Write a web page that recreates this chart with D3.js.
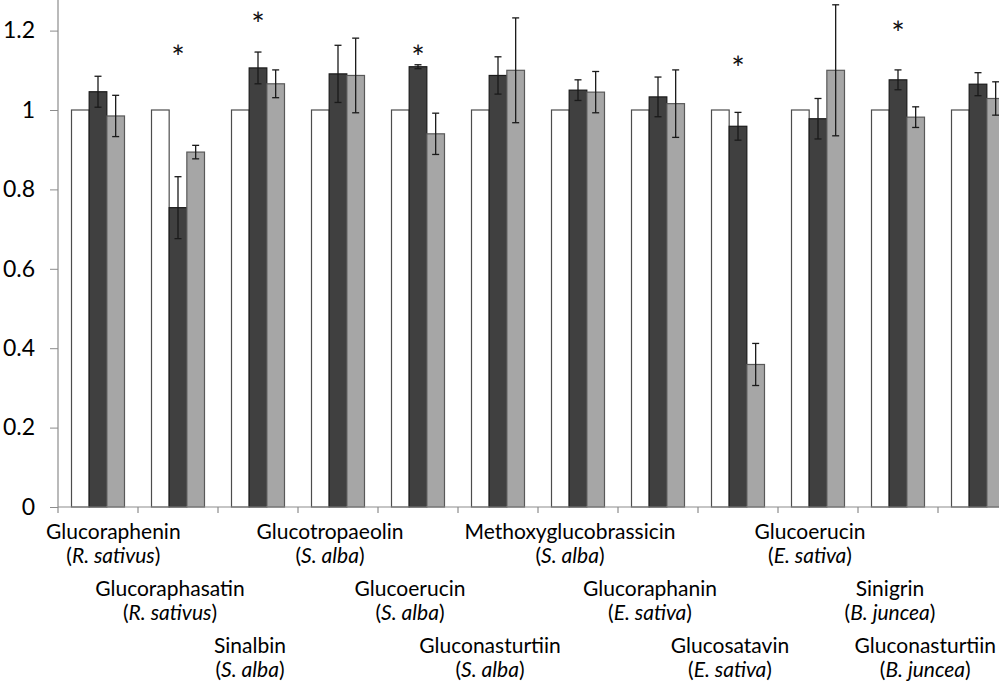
<!DOCTYPE html>
<html>
<head>
<meta charset="utf-8">
<script src="https://cdn.jsdelivr.net/npm/d3@7"></script>
<style>
  html, body { margin: 0; padding: 0; background: #fff; }
  svg { display: block; }
  text { font-family: Lato, "Open Sans", sans-serif; }
</style>
</head>
<body>
<script>
// ---- data ----
const compounds = ["Glucoraphenin","Glucoraphasatin","Sinalbin","Glucotropaeolin","Glucoerucin","Gluconasturtiin","Methoxyglucobrassicin","Glucoraphanin","Glucosatavin","Glucoerucin","Sinigrin","Gluconasturtiin"];
const species = ["R. sativus","R. sativus","S. alba","S. alba","S. alba","S. alba","S. alba","E. sativa","E. sativa","E. sativa","B. juncea","B. juncea"];
const seriesNames = ["control","treatmentA","treatmentB"];
const controlValues = [1,1,1,1,1,1,1,1,1,1,1,1];
const treatmentA = [1.046,0.754,1.106,1.091,1.109,1.087,1.050,1.033,0.959,0.978,1.076,1.065];
const errorA =     [0.039,0.078,0.040,0.072,0.005,0.047,0.026,0.050,0.035,0.051,0.025,0.029];
const treatmentB = [0.985,0.894,1.066,1.087,0.940,1.100,1.045,1.016,0.359,1.100,0.982,1.029];
const errorB =     [0.052,0.017,0.035,0.094,0.052,0.132,0.052,0.085,0.053,0.165,0.026,0.042];
const significantIdx = [1,2,4,8,10];
const significantLevel = [1.146,1.229,1.146,1.119,1.206];
const yTicks = [0,0.2,0.4,0.6,0.8,1.0,1.2];
const yTickLabels = ["0","0.2","0.4","0.6","0.8","1","1.2"];

// ---- layout ----
const W = 999, H = 695;
const axisX = 58, baseY = 507;
const svg = d3.select("body").append("svg").attr("width", W).attr("height", H);
svg.append("rect").attr("width", W).attr("height", H).attr("fill", "#fff");

const x = d3.scaleBand().domain(d3.range(compounds.length)).range([axisX, axisX + 80 * compounds.length]).padding(0);
const xs = d3.scaleBand().domain(seriesNames).range([13.5, 66.5]).padding(0);
const y = d3.scaleLinear().domain([0, 1.2]).range([baseY, 30.6]);

const styles = {
  control:    {fill: "#ffffff", stroke: "#4d4d4d"},
  treatmentA: {fill: "#404040", stroke: "#1a1a1a"},
  treatmentB: {fill: "#a6a6a6", stroke: "#595959"}
};
const seriesVals = {control: controlValues, treatmentA: treatmentA, treatmentB: treatmentB};
const seriesErr = {treatmentA: errorA, treatmentB: errorB};

// bars
const g = svg.append("g");
seriesNames.forEach(s => {
  g.selectAll(null).data(seriesVals[s]).enter().append("rect")
    .attr("x", (d, i) => x(i) + xs(s))
    .attr("y", d => y(d))
    .attr("width", xs.bandwidth())
    .attr("height", d => y(0) - y(d))
    .attr("fill", styles[s].fill)
    .attr("stroke", styles[s].stroke)
    .attr("stroke-width", 1.2);
});

// error bars
["treatmentA","treatmentB"].forEach(s => {
  const vals = seriesVals[s], errs = seriesErr[s];
  const eg = g.selectAll(null).data(vals).enter().append("g")
    .attr("stroke", "#1a1a1a").attr("stroke-width", 1.3);
  eg.append("line")
    .attr("x1", (d, i) => x(i) + xs(s) + xs.bandwidth() / 2)
    .attr("x2", (d, i) => x(i) + xs(s) + xs.bandwidth() / 2)
    .attr("y1", (d, i) => y(d + errs[i]))
    .attr("y2", (d, i) => y(d - errs[i]));
  [1, -1].forEach(sign => {
    eg.append("line")
      .attr("x1", (d, i) => x(i) + xs(s) + xs.bandwidth() / 2 - 3.5)
      .attr("x2", (d, i) => x(i) + xs(s) + xs.bandwidth() / 2 + 3.5)
      .attr("y1", (d, i) => y(d + sign * errs[i]))
      .attr("y2", (d, i) => y(d + sign * errs[i]));
  });
});

// asterisks
g.selectAll(null).data(significantIdx).enter().append("text")
  .attr("x", (d) => x(d) + xs("treatmentA") + xs.bandwidth() / 2)
  .attr("y", (d, k) => y(significantLevel[k]) + 17)
  .attr("text-anchor", "middle")
  .attr("font-size", 32)
  .attr("font-family", "'DejaVu Sans', sans-serif")
  .attr("fill", "#111")
  .text("*");

// y axis
const axisColor = "#8c8c8c";
const yAxis = svg.append("g").attr("transform", `translate(${axisX},0)`)
  .call(d3.axisLeft(y).tickValues(yTicks).tickFormat((d, i) => yTickLabels[i]).tickSize(8).tickPadding(15));
yAxis.select(".domain").remove();
yAxis.selectAll(".tick line").attr("stroke", axisColor);
yAxis.selectAll(".tick text").attr("font-size", 23).attr("fill", "#000").attr("font-family", "Lato, sans-serif");
svg.append("line").attr("x1", axisX).attr("x2", axisX).attr("y1", 0).attr("y2", baseY)
  .attr("stroke", axisColor).attr("stroke-width", 1.2);

// x axis
const xAxis = svg.append("g").attr("transform", `translate(0,${baseY})`);
xAxis.append("line").attr("x1", axisX).attr("x2", x.range()[1]).attr("y1", 0).attr("y2", 0)
  .attr("stroke", axisColor).attr("stroke-width", 1.2);
xAxis.selectAll(null).data(d3.range(compounds.length + 1)).enter().append("line")
  .attr("x1", d => axisX + d * x.step()).attr("x2", d => axisX + d * x.step())
  .attr("y1", 0).attr("y2", 6).attr("stroke", axisColor).attr("stroke-width", 1.2);

// category labels: two lines each, staggered on three rows so they stay horizontal and readable
const fs = 21, lineH = 24, rowStep = 57, firstBaseline = 539;
const labelG = svg.append("g").attr("class", "xlabels");
compounds.forEach((name, i) => {
  const row = i % 3;
  const by = firstBaseline + row * rowStep;
  const t1 = labelG.append("text").attr("text-anchor", "middle").attr("font-size", fs).attr("fill", "#000")
    .attr("y", by).text(name);
  const t2 = labelG.append("text").attr("text-anchor", "middle").attr("font-size", fs).attr("fill", "#000")
    .attr("y", by + lineH);
  t2.append("tspan").text("(");
  t2.append("tspan").attr("font-style", "italic").text(species[i]);
  t2.append("tspan").text(")");
  // centre under the category, kept clear of the y-axis labels and inside the picture
  const w = Math.max(t1.node().getComputedTextLength(), t2.node().getComputedTextLength());
  let cx = x(i) + x.bandwidth() / 2 - 8;
  cx = Math.max(axisX - 12 + w / 2, Math.min(W - 3 - w / 2, cx));
  t1.attr("x", cx);
  t2.attr("x", cx);
});
</script>
</body>
</html>
